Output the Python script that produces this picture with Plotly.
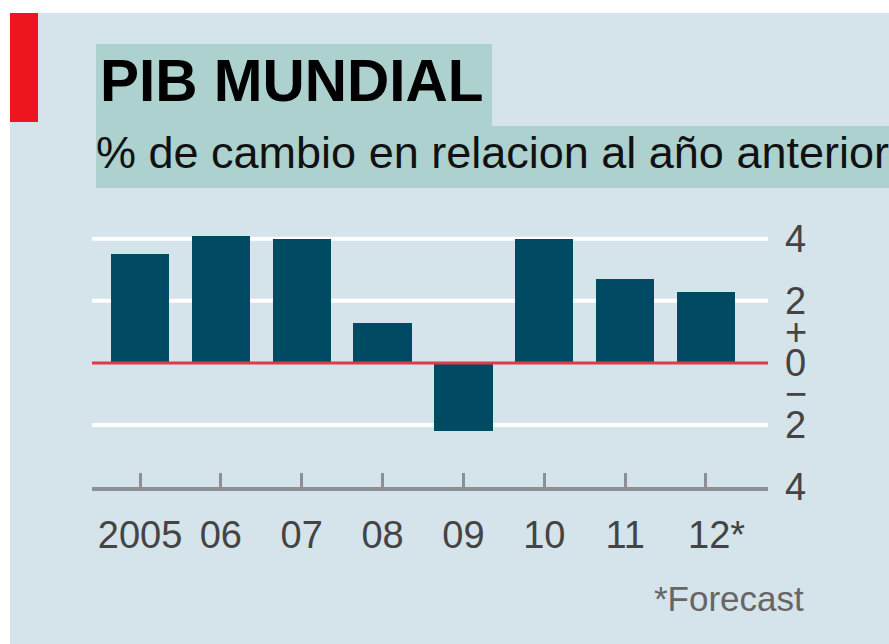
import plotly.graph_objects as go

# ---- data ----
years = ["2005", "06", "07", "08", "09", "10", "11", "12*"]
gdp_change = [3.5, 4.1, 4.0, 1.3, -2.2, 4.0, 2.7, 2.3]
y_tickvals = [4, 2, 1, 0, -1, -2, -4]
y_ticktext = ["4", "2", "+", "0", "\u2212", "2", "4"]
grid_values = [4, 2, -2]
title = "PIB MUNDIAL"
subtitle = "% de cambio en relacion al a\u00f1o anterior"
note = "*Forecast"

W, H = 889, 644
def fx(px):
    return px / W
def fy(py):
    return 1 - py / H

BG = "#d5e3ea"
TEAL = "#acd1cf"
BAR = "#004b63"
RED = "#e23a44"
SANS = "Liberation Sans, Arial, sans-serif"

xs = list(range(len(years)))
# the forecast asterisk hangs to the right of its label, as in the original
x_ticktext = [("\u2007" + y) if y.endswith("*") else y for y in years]

fig = go.Figure()
fig.add_trace(go.Bar(
    x=xs, y=gdp_change, width=0.72,
    marker=dict(color=BAR, line=dict(width=0)),
    hoverinfo="skip", showlegend=False,
))

shapes = []
shapes.append(dict(type="rect", xref="paper", yref="paper", x0=fx(10), x1=1, y0=0, y1=fy(13),
                   fillcolor=BG, line=dict(width=0), layer="below"))
shapes.append(dict(type="rect", xref="paper", yref="paper", x0=fx(10), x1=fx(38), y0=fy(122), y1=fy(13),
                   fillcolor="#ee1520", line=dict(width=0), layer="below"))
shapes.append(dict(type="rect", xref="paper", yref="paper", x0=fx(96), x1=fx(492), y0=fy(126), y1=fy(44),
                   fillcolor=TEAL, line=dict(width=0), layer="below"))
shapes.append(dict(type="rect", xref="paper", yref="paper", x0=fx(96), x1=1, y0=fy(188), y1=fy(126),
                   fillcolor=TEAL, line=dict(width=0), layer="below"))
for g in grid_values:
    shapes.append(dict(type="line", xref="x domain", yref="y", x0=0, x1=1, y0=g, y1=g,
                       line=dict(color="white", width=4), layer="below"))
shapes.append(dict(type="line", xref="x domain", yref="y", x0=0, x1=1, y0=0, y1=0,
                   line=dict(color=RED, width=3), layer="above"))

annotations = [
    dict(text=title, xref="paper", yref="paper", x=fx(98), y=fy(80), xanchor="left", yanchor="middle",
         showarrow=False, font=dict(family=SANS, size=58.5, color="black", weight="bold")),
    dict(text=subtitle, xref="paper", yref="paper", x=fx(94), y=fy(152), xanchor="left", yanchor="middle",
         showarrow=False, font=dict(family=SANS, size=45, color="#111")),
    dict(text=note, xref="paper", yref="paper", x=fx(806), y=fy(598), xanchor="right", yanchor="middle",
         showarrow=False, font=dict(family=SANS, size=35, color="#666")),
]

fig.update_layout(
    width=W, height=H, autosize=False,
    margin=dict(l=0, r=0, t=0, b=0),
    paper_bgcolor="white", plot_bgcolor="rgba(0,0,0,0)",
    shapes=shapes, annotations=annotations,
    xaxis=dict(domain=[fx(92), fx(768)], range=[-0.594, 7.767], automargin=False,
               tickvals=xs, ticktext=x_ticktext,
               showgrid=False, zeroline=False,
               showline=True, linecolor="#8c8f93", linewidth=4,
               ticks="inside", ticklen=14, tickwidth=3, tickcolor="#8c8f93",
               ticklabelstandoff=11,
               tickfont=dict(family=SANS, size=38, color="#444")),
    yaxis=dict(domain=[fy(487), fy(214)], range=[-4, 4.8], side="right", automargin=False,
               tickvals=y_tickvals, ticktext=y_ticktext,
               showgrid=False, zeroline=False, showline=False, ticks="",
               ticklabelstandoff=16,
               tickfont=dict(family=SANS, size=38, color="#444")),
    bargap=0,
)

fig.write_html("out.html", config={"displayModeBar": False},
               post_script="document.body.style.margin='0';")
